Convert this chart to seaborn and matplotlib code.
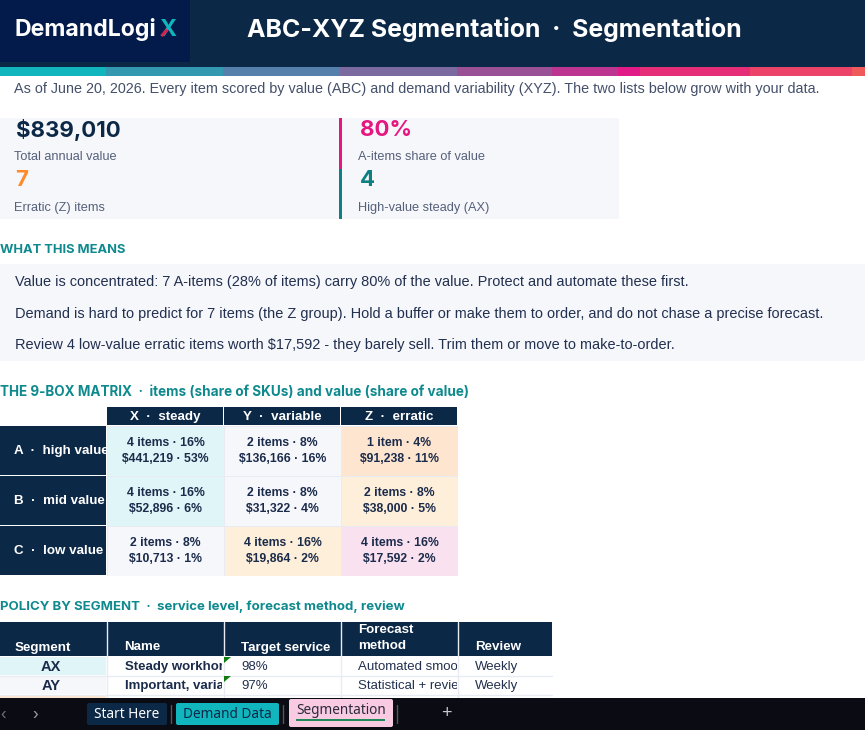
import numpy as np
import matplotlib
matplotlib.use('Agg')
import matplotlib.pyplot as plt
import seaborn as sns
from matplotlib.colors import ListedColormap
from matplotlib.patches import Rectangle, Polygon, FancyBboxPatch

# 9-box data
col_labels = ['X  ·  steady', 'Y  ·  variable', 'Z  ·  erratic']
row_labels = ['A  ·  high value', 'B  ·  mid value', 'C  ·  low value']
box_items = np.array([[4, 2, 1], [4, 2, 2], [2, 4, 4]])
box_item_share = np.array([[16, 8, 4], [16, 8, 8], [8, 16, 16]])
box_value = np.array([[441219, 136166, 91238], [52896, 31322, 38000], [10713, 19864, 17592]])
box_value_share = np.array([[53, 16, 11], [6, 4, 5], [1, 2, 2]])
# colour class per cell: 0 teal, 1 neutral, 2 peach, 3 cream, 4 pink
box_class = np.array([[0, 1, 2], [0, 1, 3], [1, 3, 4]])
box_colors = ['#E0F5F7', '#F6F7FB', '#FDE5D0', '#FDEFD9', '#FAE1F0']

# KPI tiles
kpi_values = ['$839,010', '80%', '7', '4']
kpi_labels = ['Total annual value', 'A-items share of value', 'Erratic (Z) items', 'High-value steady (AX)']

insights = [
    'Value is concentrated: 7 A-items (28% of items) carry 80% of the value. Protect and automate these first.',
    'Demand is hard to predict for 7 items (the Z group). Hold a buffer or make them to order, and do not chase a precise forecast.',
    'Review 4 low-value erratic items worth $17,592 - they barely sell. Trim them or move to make-to-order.',
]

# Policy table (long cells are cut off by the column in the sheet)
policy_headers = ['Segment', 'Name', 'Target service', 'Forecast\nmethod', 'Review']
policy_segments = ['AX', 'AY']
policy_names = ['Steady workhor', 'Important, varia']
policy_service = ['98%', '97%']
policy_methods = ['Automated smoo', 'Statistical + revie']
policy_review = ['Weekly', 'Weekly']

tab_names = ['Start Here', 'Demand Data', 'Segmentation']
ribbon_colors = ['#11B5BE', '#3399B1', '#5580AC', '#7A6AA0', '#9A5095', '#BC3590',
                 '#E01B88', '#E62E78', '#EC4368', '#F05A5A']
ribbon_edges = [0, 106, 223, 340, 457, 552, 618, 640, 750, 852, 865]

NAVY = '#0C2847'
TEAL = '#0E8A8F'
HEAD = ['Inter', 'DejaVu Sans']
BODY = ['Liberation Sans', 'DejaVu Sans']

sns.set_theme(style='white')
plt.rcParams['font.family'] = BODY

fig = plt.figure(figsize=(8.65, 7.3), dpi=100, facecolor='white')
page = fig.add_axes([0, 0, 1, 1])
page.set_xlim(0, 865)
page.set_ylim(730, 0)
page.axis('off')


def box(x0, y0, x1, y1, color, z=1, **kw):
    p = Rectangle((x0, y0), x1 - x0, y1 - y0, facecolor=color, edgecolor='none', zorder=z, **kw)
    page.add_patch(p)
    return p


def label(x, y, s, size, color, weight='normal', family=BODY, ha='left', va='center', z=5, clip=None, **kw):
    t = page.text(x, y, s, fontsize=size, color=color, fontweight=weight, family=family,
                  ha=ha, va=va, zorder=z, **kw)
    if clip is not None:
        t.set_clip_on(True)
        t.set_clip_path(clip)
    return t


# banner
box(0, 0, 865, 67, NAVY)
box(0, 0, 190, 62, '#021B4B', z=2)
label(15, 29.5, 'DemandLogi', 16.6, 'white', 'bold', HEAD)
label(159, 29.5, 'X', 16.6, '#11B5BE', 'bold', HEAD)
# red stroke on the logo X
page.plot([161.5, 167.5], [36, 29.5], color='#D8204F', lw=2.2, zorder=6, solid_capstyle='butt')
label(247, 29, 'ABC-XYZ Segmentation  ·  Segmentation', 17.9, 'white', 'bold', HEAD)
for i, c in enumerate(ribbon_colors):
    box(ribbon_edges[i], 67, ribbon_edges[i + 1], 76, c)
label(14, 88.5, 'As of June 20, 2026. Every item scored by value (ABC) and demand variability (XYZ). The two lists below grow with your data.',
      10.38, '#44506A')

# KPI tiles
box(0, 118, 619, 219, '#F6F7FB')
box(339, 118, 342, 169, '#E5177F', z=2)
box(339, 169, 342, 219, '#0E8080', z=2)
kpi_pos = [(16, 130, NAVY), (360, 130, '#E5177F'), (15, 180, '#FF8A2A'), (360, 180, '#0E8080')]
lab_pos = [(14, 157.5), (358, 157.5), (14, 207.5), (358, 207.5)]
for v, l, (x, y, c), (lx, ly) in zip(kpi_values, kpi_labels, kpi_pos, lab_pos):
    label(x, y, v, 16, c, 'bold', HEAD)
    label(lx, ly, l, 9.2, '#55607A')

# insights
label(0, 250, 'WHAT THIS MEANS', 9.3, TEAL, 'bold', HEAD)
box(0, 264, 865, 361, '#F6F7FB')
for s, y in zip(insights, [282, 314, 345]):
    label(15, y, s, 10.47, '#22304F')

# 9-box
label(0, 392, 'THE 9-BOX MATRIX  ·  items (share of SKUs) and value (share of value)', 9.73, TEAL, 'bold', HEAD)
col_x = [107, 224, 341, 458]
for i, c in enumerate(col_labels):
    box(col_x[i], 407, col_x[i + 1] - 1, 425, NAVY)
    label((col_x[i] + col_x[i + 1]) / 2, 417, c, 9.6, 'white', 'bold', ha='center')
row_y = [426, 476, 526, 576]
for i, r in enumerate(row_labels):
    cell = box(0, row_y[i], 106, row_y[i + 1] - 1, NAVY)
    label(14, (row_y[i] + row_y[i + 1]) / 2, r, 9.6, 'white', 'bold', clip=cell)

annot = np.empty(box_items.shape, dtype=object)
for r in range(3):
    for c in range(3):
        noun = 'item' if box_items[r, c] == 1 else 'items'
        annot[r, c] = (f'{box_items[r, c]} {noun} · {box_item_share[r, c]}%\n'
                       f'${box_value[r, c]:,} · {box_value_share[r, c]}%')

ax = fig.add_axes([107 / 865, 1 - 576 / 730, 351 / 865, 150 / 730])
sns.heatmap(box_class, ax=ax, cmap=ListedColormap(box_colors), vmin=-0.5, vmax=4.5, cbar=False,
            annot=annot, fmt='', linewidths=0.7, linecolor='#E8EBF2', xticklabels=False, yticklabels=False,
            annot_kws={'fontsize': 8.8, 'fontweight': 'bold', 'color': '#1B2B4B', 'linespacing': 1.5,
                       'family': BODY})

# policy table
label(0, 607, 'POLICY BY SEGMENT  ·  service level, forecast method, review', 9.53, TEAL, 'bold', HEAD)
tbl_x = [0, 107, 224, 341, 458, 552]
box(0, 622, 552, 698, 'white')
box(0, 622, 552, 656, NAVY, z=2)
header_x = [15, 124, 241, 358, 475]
for i, h in enumerate(policy_headers):
    if '\n' in h:
        label(header_x[i], 638, h, 9.6, 'white', 'bold', z=6, linespacing=1.45)
    else:
        label(header_x[i], 646, h, 9.6, 'white', 'bold', z=6, va='center_baseline')
for x in tbl_x[1:-1]:
    page.plot([x - 0.5, x - 0.5], [622, 698], color='#E8EBF2', lw=1, zorder=3)
row_tops = [657, 676, 695]
seg_fill = ['#E0F5F7', '#F6F7FB', '#FDE5D0']
for y, c in zip(row_tops, seg_fill):
    box(0, y, 106, y + 18, c, z=2)
    page.plot([0, 552], [y + 18.5, y + 18.5], color='#E8EBF2', lw=1, zorder=3)
for i, y in enumerate(row_tops[:2]):
    ym = y + 8.5
    label(51, ym, policy_segments[i], 10.5, '#1B2B4B', 'bold', ha='center', z=6, va='center_baseline')
    c1 = box(107, y, 222, y + 18, 'white', z=2)
    label(125, ym, policy_names[i], 9.5, '#1B2B4B', 'bold', z=6, clip=c1, va='center_baseline')
    label(241, ym, policy_service[i], 9.5, '#22304F', z=6, va='center_baseline')
    c3 = box(341, y, 457, y + 18, 'white', z=2)
    label(358, ym, policy_methods[i], 9.5, '#22304F', z=6, clip=c3, va='center_baseline')
    label(475, ym, policy_review[i], 9.5, '#22304F', z=6, va='center_baseline')
    page.add_patch(Polygon([(224, y), (231, y), (224, y + 6)], facecolor='#107C10', edgecolor='none', zorder=6))

# sheet tab strip
box(0, 698, 865, 730, '#0B0B14', z=8)
label(3, 714, '‹', 12, '#6E7078', z=9, ha='center')
label(35, 714, '›', 12, '#A0A2A8', z=9, ha='center')
tab_boxes = [(87, 703, 167, 725, NAVY, 'white'), (176, 703, 279, 725, '#11B5BE', '#0C2847'), (289, 699, 393, 727, '#F9CBE3', '#2A2A3A')]
for (x0, y0, x1, y1, c, tc), n in zip(tab_boxes, tab_names):
    page.add_patch(FancyBboxPatch((x0 + 2, y0 + 2), x1 - x0 - 4, y1 - y0 - 4, boxstyle='round,pad=2',
                                  facecolor=c, edgecolor='none', zorder=9))
    label((x0 + x1) / 2, (y0 + y1) / 2 - (2 if n == 'Segmentation' else 0), n, 9.8, tc, z=10, ha='center', family=['Noto Sans', 'DejaVu Sans'])
box(296, 719, 385, 721, '#1E8A5A', z=10)
for x in [171, 283, 397]:
    page.plot([x, x], [705, 723], color='#55565E', lw=1, zorder=9)
label(446, 713, '+', 13, '#C8C8CC', z=9, ha='center')

fig.savefig('out.png', dpi=100)
